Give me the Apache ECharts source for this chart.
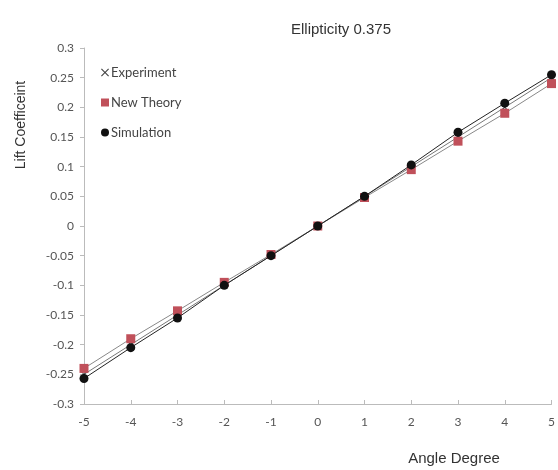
<!DOCTYPE html>
<html>
<head>
<meta charset="utf-8">
<script src="https://cdn.jsdelivr.net/npm/echarts@6/dist/echarts.min.js"></script>
<style>
  html, body { margin: 0; padding: 0; background: #fff; }
  #chart { width: 558px; height: 470px; }
</style>
</head>
<body>
<div id="chart"></div>
<script>
// Angle of attack (degrees)
var angles = [-5, -4, -3, -2, -1, 0, 1, 2, 3, 4, 5];
// Lift coefficient per method
var experiment = [-0.25, -0.2, -0.15, -0.1, -0.05, 0, 0.05, 0.1, 0.15, 0.2, 0.25];
var newTheory = [-0.24, -0.19, -0.143, -0.095, -0.048, 0, 0.048, 0.095, 0.143, 0.19, 0.24];
var simulation = [-0.257, -0.205, -0.155, -0.1, -0.05, 0, 0.05, 0.103, 0.158, 0.207, 0.255];

var xCross = 'path://M1,0L5,4L9,0L10,1L6,5L10,9L9,10L5,6L1,10L0,9L4,5L0,1Z';

function pairs(ys) {
  return angles.map(function (a, i) { return [a, ys[i]]; });
}

var chart = echarts.init(document.getElementById('chart'));
var tickFont = { color: '#555', fontSize: 12, fontFamily: 'Lato, sans-serif' };

chart.setOption({
  animation: false,
  title: {
    text: 'Ellipticity 0.375',
    left: 336, top: 17, textAlign: 'center',
    textStyle: { fontFamily: 'Liberation Sans, Arial', fontSize: 15, fontWeight: 'normal', color: '#333' }
  },
  legend: {
    orient: 'vertical',
    left: 96, top: 61,
    itemWidth: 8, itemHeight: 8, itemGap: 17,
    textStyle: { fontFamily: 'Lato, sans-serif', fontSize: 13, color: '#444', padding: [0, 0, 0, -3] },
    data: [
      { name: 'Experiment', icon: xCross, itemStyle: { color: '#444' } },
      { name: 'New Theory', icon: 'rect', itemStyle: { color: '#c0505a' } },
      { name: 'Simulation', icon: 'circle', itemStyle: { color: '#111' } }
    ]
  },
  grid: { left: 84, right: 5, top: 48, bottom: 66 },
  xAxis: {
    type: 'value', min: -5, max: 5, interval: 1,
    axisLine: { onZero: false, lineStyle: { color: '#bbb' } },
    axisTick: { show: true, length: 4, inside: true, lineStyle: { color: '#bbb' } },
    axisLabel: Object.assign({ margin: 12 }, tickFont),
    splitLine: { show: false }
  },
  yAxis: {
    type: 'value', min: -0.3, max: 0.3, interval: 0.05,
    axisLine: { show: true, onZero: false, lineStyle: { color: '#bbb' } },
    axisTick: { show: true, length: 4, lineStyle: { color: '#bbb' } },
    axisLabel: Object.assign({ margin: 10, formatter: function (v) {
      return String(Math.round(v * 100) / 100);
    } }, tickFont),
    splitLine: { show: false }
  },
  graphic: [
    {
      type: 'text', x: 21, y: 125, rotation: Math.PI / 2,
      style: {
        text: 'Lift Coefficeint', fill: '#333',
        font: '14px "Liberation Sans", Arial', textAlign: 'center', textVerticalAlign: 'middle'
      }
    },
    {
      type: 'text', x: 454, y: 459,
      style: {
        text: 'Angle Degree', fill: '#333',
        font: '15px "Liberation Sans", Arial', textAlign: 'center', textVerticalAlign: 'middle'
      }
    }
  ],
  series: [
    {
      name: 'Experiment', type: 'line', data: pairs(experiment),
      symbol: xCross, symbolSize: 7,
      lineStyle: { color: '#777', width: 1 },
      itemStyle: { color: '#444' }, z: 2
    },
    {
      name: 'New Theory', type: 'line', data: pairs(newTheory),
      symbol: 'rect', symbolSize: 9,
      lineStyle: { color: '#888', width: 1 },
      itemStyle: { color: '#c0505a' }, z: 3
    },
    {
      name: 'Simulation', type: 'line', data: pairs(simulation),
      symbol: 'circle', symbolSize: 9,
      lineStyle: { color: '#222', width: 1 },
      itemStyle: { color: '#111' }, z: 4
    }
  ]
});
</script>
</body>
</html>
